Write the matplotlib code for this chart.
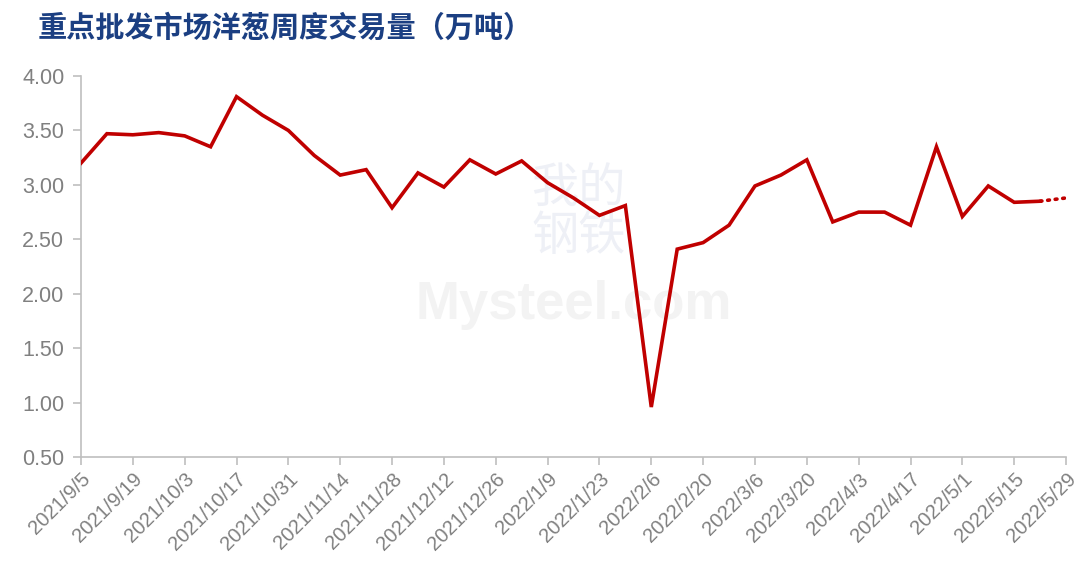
import numpy as np
import pandas as pd
import matplotlib
matplotlib.use('Agg')
import matplotlib.pyplot as plt

# weekly onion volume at key wholesale markets (10k tonnes)
weeks = pd.date_range('2021-09-05', '2022-05-29', freq='7D')
volume = [3.20, 3.47, 3.46, 3.48, 3.45, 3.35, 3.81, 3.64, 3.50, 3.27,
          3.09, 3.14, 2.79, 3.11, 2.98, 3.23, 3.10, 3.22, 3.02, 2.88,
          2.72, 2.81, 0.96, 2.41, 2.47, 2.63, 2.99, 3.09, 3.23, 2.66,
          2.75, 2.75, 2.63, 3.35, 2.71, 2.99, 2.84, 2.85, 2.88]
n_solid = 38  # last point is an estimate, drawn dotted

title = '重点批发市场洋葱周度交易量（万吨）'
yticks = [0.5, 1.0, 1.5, 2.0, 2.5, 3.0, 3.5, 4.0]

plt.rcParams['font.family'] = ['Liberation Sans', 'DejaVu Sans']

fig = plt.figure(figsize=(10.74, 5.70), dpi=100)
ax = fig.add_axes([0.0754, 0.198, 0.9172, 0.6687])

x = np.arange(len(volume))
red = '#C00000'
ax.plot(x[:n_solid], volume[:n_solid], color=red, lw=2.6, solid_joinstyle='miter', zorder=3)
ax.plot(x[n_solid - 1:], volume[n_solid - 1:], color=red, lw=2.6, linestyle=(0, (0.5, 1.6)),
        dash_capstyle='round', zorder=3)

ax.set_xlim(0, len(volume) - 1)
ax.set_ylim(0.5, 4.0)
ax.set_yticks(yticks)
ax.set_yticklabels([f'{v:.2f}' for v in yticks])
ticks = x[::2]
ax.set_xticks(ticks)
ax.set_xticklabels([f'{d.year}/{d.month}/{d.day}' for d in weeks[::2]],
                   rotation=45, ha='right', rotation_mode='anchor')

grey = '#BFBFBF'
for s in ['top', 'right']:
    ax.spines[s].set_visible(False)
for s in ['left', 'bottom']:
    ax.spines[s].set_color(grey)
    ax.spines[s].set_linewidth(1.2)
ax.tick_params(axis='both', colors=grey, length=6, width=1.2)
ax.tick_params(axis='y', labelsize=15.5, labelcolor='#808080', pad=6)
ax.tick_params(axis='x', labelsize=14.5, labelcolor='#808080', pad=3)

# faint watermark, behind the line
ax.text(0.505, 0.64, '我的\n钢铁', transform=ax.transAxes, fontsize=34,
        family='Noto Sans CJK SC', color='#EEF0F6', ha='center', va='center',
        linespacing=0.95, zorder=0)
ax.text(0.5, 0.4, 'Mysteel.com', transform=ax.transAxes, fontsize=38, weight='bold',
        color='#F3F3F3', ha='center', va='center', zorder=0)

fig.text(0.035, 0.952, title, fontsize=21, weight='bold', color='#1B3F82',
         family=['Noto Sans CJK SC', 'DejaVu Sans'], ha='left', va='center')

fig.savefig('out.png', dpi=100)
